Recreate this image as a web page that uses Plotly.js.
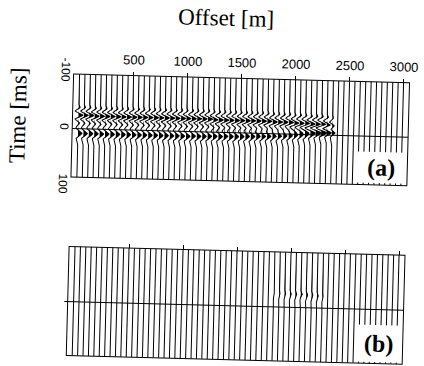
<!DOCTYPE html>
<html>
<head>
<meta charset="utf-8">
<script src="https://cdn.plot.ly/plotly-3.0.1.min.js"></script>
<style>
html, body { margin: 0; padding: 0; overflow: hidden; background: #ffffff; width: 424px; height: 366px; }
#chart { width: 424px; height: 366px; transform: rotate(1.5deg); transform-origin: 242px 215px; }
</style>
</head>
<body>
<div id="chart"></div>
<script>
// ---- data ----
const offsets = [0,50,100,150,200,250,300,350,400,450,500,550,600,650,700,750,800,850,900,950,
  1000,1050,1100,1150,1200,1250,1300,1350,1400,1450,1500,1550,1600,1650,1700,1750,1800,1850,1900,1950,
  2000,2050,2100,2150,2200,2250,2300,2350,2400,2450,2500,2550,2600,2650,2700,2750,2800,2850,2900,2950,3000];

// upper event (panel a): time [ms] and amplitude per trace
const eventATime = [-24,-24,-24,-23,-23,-23,-23,-23,-23,-23,
  -23,-23,-23,-23,-23,-23,-23,-23,-23,-23,
  -23,-23,-23,-23,-23,-22,-22,-22,-22,-22,
  -22,-22,-22,-22,-22,-22,-21,
  -21,-21,-21,-20,-20,-20,-19,-19,-19,-18,-17,
  null,null,null,null,null,null,null,null,null,null,null,null,null];
const eventAAmp = [1,1,1,1,1,1,1,1,1,1, 1,1,1,1,1,1,1,1,1,1,
  1,1,1,1,1,1,1,1,1,1, 1,1,1,1,1,1,1, 1,1,1,1,1,1,1.1,1.1,1.1,1,0.8,
  0,0,0,0,0,0,0,0,0,0,0,0,0];

// lower event (panel a): time [ms] and amplitude per trace
const eventBTime = [8,8,8,8,8,8,8,8,8,8, 8,8,8,8,8,8,8,8,8,8,
  8,7.5,7.5,7.5,7,7,7,6.5,6.5,6.5, 6,5.5,5.5,5,4.5,4,3.5,
  3,2.5,2,1,0,-1,-2,-3,-4,-5,-7,
  null,null,null,null,null,null,null,null,null,null,null,null,null];
const eventBAmp = [0.9,0.9,0.9,0.9,0.9,0.9,0.9,0.9,0.9,0.9, 0.9,0.9,0.9,0.9,0.9,0.9,0.9,0.9,0.9,0.9,
  0.9,0.9,0.9,0.9,0.9,0.9,0.9,0.9,0.9,0.9, 0.9,0.9,0.9,0.9,0.9,0.9,0.9, 0.9,0.9,0.9,0.9,0.9,0.9,0.9,0.9,0.9,0.8,0.7,
  0,0,0,0,0,0,0,0,0,0,0,0,0];

// residual event (panel b)
const residualTime = [-25,-25,-25,-25,-25,-25,-25,-25,-25,-25, -25,-25,-25,-25,-25,-25,-25,-25,-25,-25,
  -25,-25,-25,-25,-25,-25,-25,-25,-25,-25, -25,-25,-25,-25,-25,-25,-25,
  -25,-25,-25,-24,-24,-24,-23,-23,-22,-22,-21,
  -21,-21,-21,-21,-21,-21,-21,-21,-21,-21,-21,-21,-21];
const residualAmp = [0,0,0,0,0,0,0,0,0,0, 0,0,0,0,0,0,0,0,0,0,
  0,0,0,0,0,0,0,0,0,0, 0,0,0,0,0,0,0.1,
  0.15,0.2,0.25,0.3,0.3,0.35,0.35,0.3,0.3,0.2,0.1,
  0,0,0,0,0,0,0,0,0,0,0,0,0];

const xTickVals = [500,1000,1500,2000,2500,3000];
const yTickVals = [-100,0,100];
const yTickText = ['-100','0','100'];

// ---- rendering ----
const gain = 40;          // metres of offset per unit amplitude
const dt = 0.5;           // ms
const frameA = [-95.6, 85];
const frameB = [-96.5, 94.7];

function gabor(t) { return Math.cos(2 * Math.PI * t / 15) * Math.exp(-(t / 14) * (t / 14)); }
function ricker(t) { const a = Math.pow(Math.PI * 40 * t / 1000, 2); return (1 - 2 * a) * Math.exp(-a); }

function buildPanel(frame, ampFn) {
  const lx = [], ly = [], fx = [], fy = [];
  offsets.forEach((x0, i) => {
    for (let t = frame[0]; t <= frame[1] + 1e-9; t += dt) {
      const w = ampFn(i, t);
      lx.push(x0 + gain * w); ly.push(t);
      fx.push(x0 + gain * Math.max(w, 0)); fy.push(t);
    }
    lx.push(null); ly.push(null); fx.push(null); fy.push(null);
  });
  return {lx, ly, fx, fy};
}

const pa = buildPanel(frameA, (i, t) => {
  let w = 0;
  if (eventATime[i] !== null) w += eventAAmp[i] * gabor(t - eventATime[i]);
  if (eventBTime[i] !== null) w += eventBAmp[i] * ricker(t - eventBTime[i]);
  return w;
});
const pb = buildPanel(frameB, (i, t) => residualAmp[i] * ricker(t - residualTime[i]));

const traces = [
  {x: pa.fx, y: pa.fy, xaxis: 'x', yaxis: 'y', type: 'scatter', mode: 'lines', fill: 'toself',
   fillcolor: '#000000', line: {width: 0, color: '#000000'}, connectgaps: false, hoverinfo: 'skip'},
  {x: pa.lx, y: pa.ly, xaxis: 'x', yaxis: 'y', type: 'scatter', mode: 'lines',
   line: {width: 1, color: '#000000'}, connectgaps: false, hoverinfo: 'skip'},
  {x: pb.fx, y: pb.fy, xaxis: 'x2', yaxis: 'y2', type: 'scatter', mode: 'lines', fill: 'toself',
   fillcolor: '#000000', line: {width: 0, color: '#000000'}, connectgaps: false, hoverinfo: 'skip'},
  {x: pb.lx, y: pb.ly, xaxis: 'x2', yaxis: 'y2', type: 'scatter', mode: 'lines',
   line: {width: 1, color: '#000000'}, connectgaps: false, hoverinfo: 'skip'}
];

const tickFont = {family: 'Liberation Sans, Arial, sans-serif', size: 13, color: '#000000'};
const serif = 'Liberation Serif, Times New Roman, serif';

const xBase = {domain: [0, 1], range: [-55, 3055], anchor: 'free', side: 'top', ticks: 'outside',
  ticklen: 4, tickwidth: 1, tickcolor: '#000000', tickvals: xTickVals, showline: false,
  showgrid: false, zeroline: false, tickfont: tickFont, fixedrange: true};
const yBase = {range: [100, -100], anchor: 'free', position: 0, showline: false, showgrid: false,
  zeroline: false, ticks: '', fixedrange: true};

const layout = {
  width: 424, height: 366,
  margin: {l: 70, r: 18, t: 76, b: 3},
  paper_bgcolor: '#ffffff', plot_bgcolor: '#ffffff',
  showlegend: false,
  title: {text: 'Offset [m]', font: {family: serif, size: 23, color: '#000000'},
    xref: 'container', yref: 'container', x: 221 / 424, y: 1 - 18 / 366, xanchor: 'center', yanchor: 'middle'},
  xaxis: Object.assign({}, xBase, {position: 0.9913, showticklabels: true, ticklabelstandoff: 2}),
  xaxis2: Object.assign({}, xBase, {position: 0.3902, showticklabels: false}),
  yaxis: Object.assign({}, yBase, {domain: [0.6028, 1], tickvals: yTickVals, ticktext: yTickText,
    tickangle: 90, showticklabels: true, tickfont: {family: 'Liberation Sans, Arial, sans-serif', size: 12, color: '#000000'}}),
  yaxis2: Object.assign({}, yBase, {domain: [0, 0.3972], showticklabels: false}),
  shapes: [
    {type: 'rect', xref: 'paper', yref: 'y', x0: 0, x1: 1, y0: frameA[0], y1: frameA[1], line: {color: '#000000', width: 1}, layer: 'above'},
    {type: 'line', xref: 'paper', yref: 'y', x0: 0, x1: 1, y0: 0, y1: 0, line: {color: '#000000', width: 1}, layer: 'above'},
    {type: 'rect', xref: 'paper', yref: 'y2', x0: 0, x1: 1, y0: frameB[0], y1: frameB[1], line: {color: '#000000', width: 1}, layer: 'above'},
    {type: 'line', xref: 'paper', yref: 'y2', x0: -0.01, x1: 1, y0: 0, y1: 0, line: {color: '#000000', width: 1}, layer: 'above'}
  ],
  annotations: [
    {text: 'Time [ms]', xref: 'paper', yref: 'paper', x: (15 - 70) / 336, y: (363 - 121) / 287,
     textangle: -90, showarrow: false, xanchor: 'center', yanchor: 'middle',
     font: {family: serif, size: 23, color: '#000000'}},
    {text: '<b>(a)</b>', xref: 'paper', yref: 'y', x: 1, y: frameA[1], xanchor: 'right', yanchor: 'bottom',
     xshift: -1, yshift: 1, showarrow: false, bgcolor: '#ffffff', width: 44, height: 26, borderpad: 2,
     font: {family: serif, size: 24, color: '#000000'}},
    {text: '<b>(b)</b>', xref: 'paper', yref: 'y2', x: 1, y: frameB[1], xanchor: 'right', yanchor: 'bottom',
     xshift: -1, yshift: 1, showarrow: false, bgcolor: '#ffffff', width: 40, height: 32, borderpad: 2,
     font: {family: serif, size: 24, color: '#000000'}}
  ]
};

Plotly.newPlot('chart', traces, layout, {displayModeBar: false, staticPlot: true});
</script>
</body>
</html>
